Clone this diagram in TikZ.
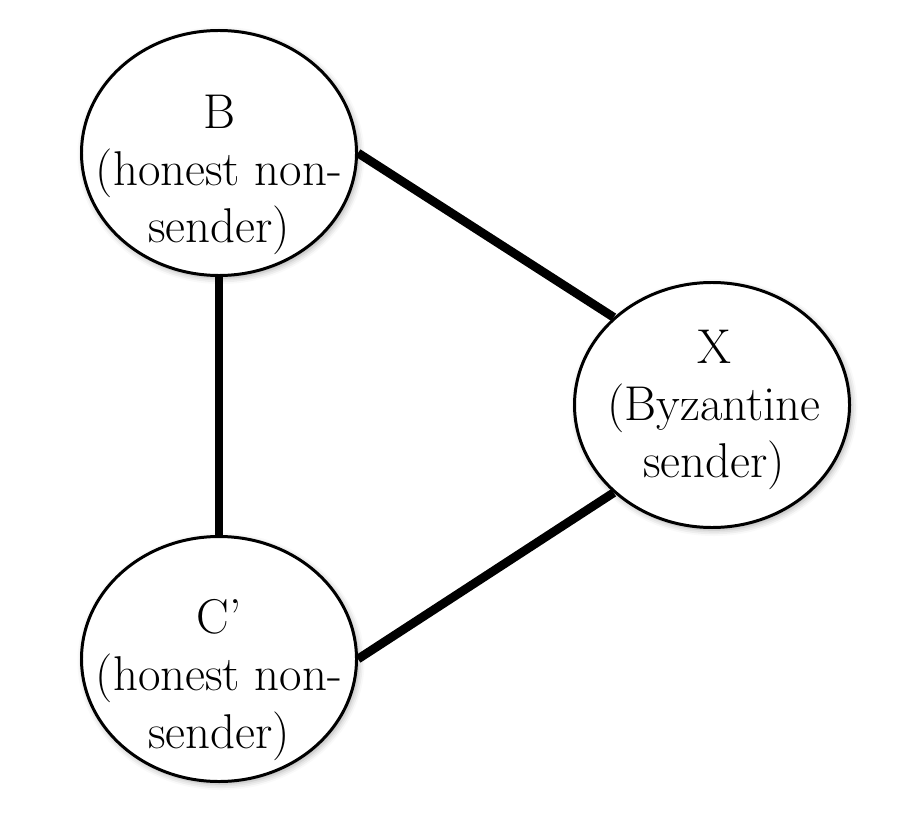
\documentclass[tikz,border=0pt]{standalone}
\usepackage{tikz}
\usetikzlibrary{shapes.geometric,shadows.blur}

\begin{document}
\begin{tikzpicture}[x=0.2mm,y=0.2mm]
\tikzstyle{agent}=[draw=black,line width=1.7pt,ellipse,fill=white,inner sep=0pt,
  minimum width=5.5cm,minimum height=4.9cm,
  blur shadow={shadow xshift=0.04cm,shadow yshift=-0.05cm,shadow blur radius=0.12cm,shadow opacity=35}]
\tikzstyle{agenttext}=[align=center,inner sep=0pt,font=\fontsize{27.8}{32.6}\selectfont]
\tikzstyle{link}=[line width=5pt]
\useasboundingbox (0,0) rectangle (908,-814);
\node [agent] (B) at (219,-153) {};
\node [agent] (X) at (712,-405) {};
\node [agent] (C) at (219,-659) {};
\node [agenttext] (Bt) at (219,-175) {B\\(honest non-\\sender)};
\node [agenttext] (Xt) at (714,-410) {X\\(Byzantine\\sender)};
\node [agenttext] (Ct) at (219,-680) {C'\\(honest non-\\sender)};
\draw [link] (B.south) -- (C.north);
\draw [link] (B.east) -- (X.north west);
\draw [link] (C.east) -- (X.south west);
\end{tikzpicture}
\end{document}
